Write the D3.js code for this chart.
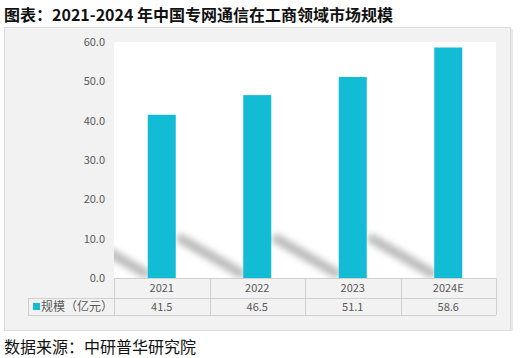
<!DOCTYPE html>
<html>
<head>
<meta charset="utf-8">
<script src="https://cdn.jsdelivr.net/npm/d3@7"></script>
<style>
body { margin: 0; background: #fff; }
text { font-family: "Noto Sans CJK SC", "Noto Sans", sans-serif; }
</style>
</head>
<body>
<script>
const W = 520, H = 358;
const years = ["2021", "2022", "2023", "2024E"];
const values = [41.5, 46.5, 51.1, 58.6];
const yTicks = [0, 10, 20, 30, 40, 50, 60];
const seriesName = "规模（亿元）";
const title = "图表：2021-2024 年中国专网通信在工商领域市场规模";
const source = "数据来源：中研普华研究院";

const plot = { left: 114, right: 496, top: 42, bottom: 278 };
const rowH = [20, 17];
const barColor = "#12bcd4";

const svg = d3.select("body").append("svg").attr("width", W).attr("height", H);

// blur for the bar shadows
const defs = svg.append("defs");
defs.append("filter").attr("id", "blur").attr("x", "-50%").attr("y", "-50%")
  .attr("width", "200%").attr("height", "200%")
  .append("feGaussianBlur").attr("stdDeviation", 3.4);
defs.append("clipPath").attr("id", "plotclip").append("rect")
  .attr("x", plot.left).attr("y", plot.top)
  .attr("width", plot.right - plot.left).attr("height", plot.bottom - plot.top);

// title
svg.append("text").attr("x", 4).attr("y", 21)
  .attr("font-size", 16).attr("font-weight", "bold").attr("fill", "#111")
  .text(title);

// outer gray panel
svg.append("rect").attr("x", 4.5).attr("y", 27.5).attr("width", 506).attr("height", 303)
  .attr("fill", "#f2f2f2").attr("stroke", "#dcdcdc");
svg.append("line").attr("x1", 512).attr("x2", 512).attr("y1", 29).attr("y2", 331)
  .attr("stroke", "#e8e8e8").attr("stroke-width", 2);

// plot area
svg.append("rect").attr("x", plot.left).attr("y", plot.top)
  .attr("width", plot.right - plot.left).attr("height", plot.bottom - plot.top)
  .attr("fill", "#fff");

const x = d3.scaleBand().domain(years).range([plot.left, plot.right]).paddingInner(0).paddingOuter(0);
const y = d3.scaleLinear().domain([0, 60]).range([plot.bottom, plot.top]);
const barW = 28;

// y axis
const yAxis = svg.append("g").attr("transform", `translate(${plot.left - 6},0)`)
  .call(d3.axisLeft(y).tickValues(yTicks).tickFormat(d3.format(".1f")).tickSize(0));
yAxis.select(".domain").remove();
yAxis.selectAll("text").attr("font-size", 11).attr("fill", "#595959")
  .attr("font-family", "'Noto Sans', sans-serif");

// shadows
const sh = svg.append("g").attr("clip-path", "url(#plotclip)");
sh.selectAll("line").data(years).enter().append("line")
  .attr("x1", d => x(d) + x.bandwidth() / 2 - barW / 2 - 62)
  .attr("y1", plot.bottom - 39)
  .attr("x2", d => x(d) + x.bandwidth() / 2 - barW / 2 - 3)
  .attr("y2", plot.bottom - 5)
  .attr("stroke", "#a0a0a0").attr("stroke-width", 10).attr("stroke-linecap", "round")
  .attr("opacity", 0.7).attr("filter", "url(#blur)");

// bars
svg.selectAll(".bar").data(years).enter().append("rect").attr("class", "bar")
  .attr("x", d => x(d) + x.bandwidth() / 2 - barW / 2)
  .attr("width", barW)
  .attr("y", (d, i) => y(values[i]))
  .attr("height", (d, i) => y(0) - y(values[i]))
  .attr("fill", barColor);

// data table
const tg = svg.append("g").attr("stroke", "#d0d0d0").attr("fill", "none");
const r1 = plot.bottom, r2 = r1 + rowH[0], r3 = r2 + rowH[1];
const labelLeft = 28;
tg.append("line").attr("x1", plot.left).attr("x2", plot.right).attr("y1", r1 + 0.5).attr("y2", r1 + 0.5);
tg.append("line").attr("x1", labelLeft).attr("x2", plot.right).attr("y1", r2 + 0.5).attr("y2", r2 + 0.5);
tg.append("line").attr("x1", labelLeft).attr("x2", plot.right).attr("y1", r3 + 0.5).attr("y2", r3 + 0.5);
tg.append("line").attr("x1", labelLeft + 0.5).attr("x2", labelLeft + 0.5).attr("y1", r2).attr("y2", r3);
const cuts = years.map(d => x(d)).concat([plot.right]);
tg.selectAll(".v").data(cuts).enter().append("line")
  .attr("x1", d => Math.round(d) + 0.5).attr("x2", d => Math.round(d) + 0.5)
  .attr("y1", r1).attr("y2", r3);

svg.selectAll(".cat").data(years).enter().append("text")
  .attr("x", d => x(d) + x.bandwidth() / 2).attr("y", r1 + 14)
  .attr("text-anchor", "middle").attr("font-size", 11).attr("fill", "#595959")
  .attr("font-family", "'Noto Sans', sans-serif")
  .text(d => d);
svg.selectAll(".val").data(years).enter().append("text")
  .attr("x", d => x(d) + x.bandwidth() / 2).attr("y", r2 + 13)
  .attr("text-anchor", "middle").attr("font-size", 11).attr("fill", "#595959")
  .attr("font-family", "'Noto Sans', sans-serif")
  .text((d, i) => values[i].toFixed(1));

// legend key + series label
svg.append("rect").attr("x", 33).attr("y", r2 + 5).attr("width", 7).attr("height", 7).attr("fill", barColor);
svg.append("text").attr("x", 41).attr("y", r2 + 13).attr("font-size", 12).attr("fill", "#595959")
  .text(seriesName);

// source
svg.append("text").attr("x", 4).attr("y", 353).attr("font-size", 16).attr("fill", "#111")
  .text(source);
</script>
</body>
</html>
